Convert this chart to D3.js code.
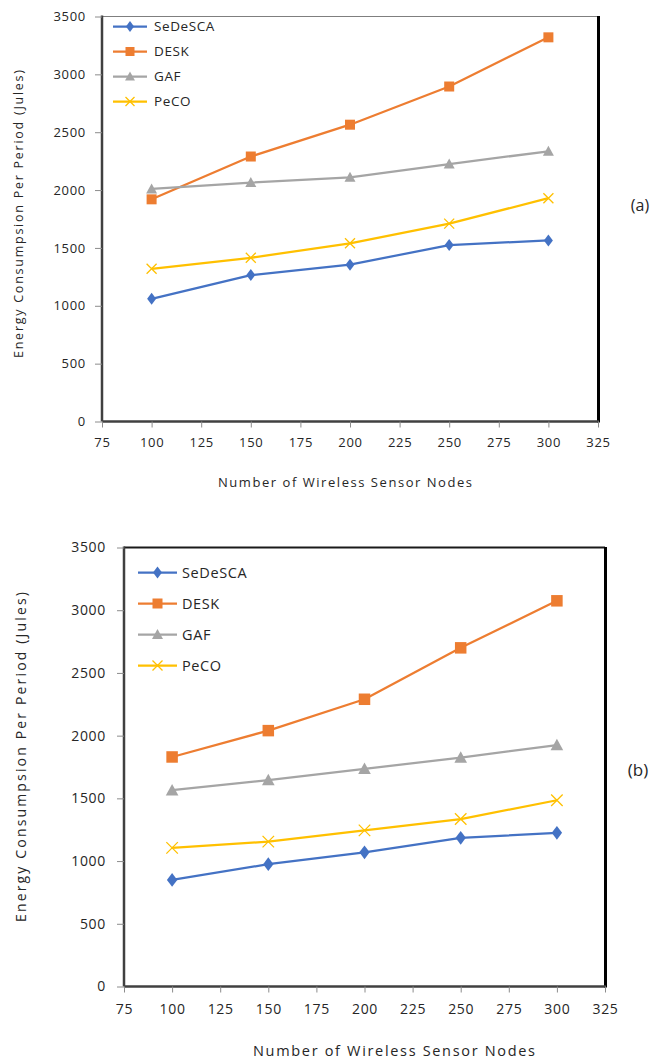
<!DOCTYPE html>
<html>
<head>
<meta charset="utf-8">
<script src="https://cdn.jsdelivr.net/npm/d3@7/dist/d3.min.js"></script>
<style>
  html, body { margin: 0; padding: 0; background: #fff; }
  svg { display: block; }
  text { font-family: "Open Sans", Lato, sans-serif; fill: #262626; }
</style>
</head>
<body>
<svg id="fig" width="665" height="1059"></svg>
<script>
// Number of wireless sensor nodes (x values) and axis ticks
const nodes = [100, 150, 200, 250, 300];
const xTicks = [75, 100, 125, 150, 175, 200, 225, 250, 275, 300, 325];
const yTicks = [0, 500, 1000, 1500, 2000, 2500, 3000, 3500];
const seriesNames = ["SeDeSCA", "DESK", "GAF", "PeCO"];

// Energy consumption per period, scenario (a)
const sedescaA = [1060, 1265, 1355, 1525, 1565];
const deskA    = [1920, 2290, 2565, 2895, 3320];
const gafA     = [2010, 2065, 2110, 2225, 2335];
const pecoA    = [1320, 1415, 1540, 1710, 1930];

// Energy consumption per period, scenario (b)
const sedescaB = [850, 975, 1070, 1185, 1225];
const deskB    = [1830, 2040, 2290, 2700, 3075];
const gafB     = [1565, 1645, 1735, 1825, 1925];
const pecoB    = [1105, 1155, 1245, 1335, 1485];

const colors  = ["#4472C4", "#ED7D31", "#A5A5A5", "#FFC000"];
const markers = ["diamond", "square", "triangle", "cross"];

const svg = d3.select("#fig");

function drawMarker(g, type, cx, cy, s, color) {
  if (type === "diamond") {
    g.append("path")
      .attr("d", `M${cx},${cy - s * 0.6}L${cx + s * 0.45},${cy}L${cx},${cy + s * 0.6}L${cx - s * 0.45},${cy}Z`)
      .attr("fill", color);
  } else if (type === "square") {
    g.append("rect")
      .attr("x", cx - s / 2).attr("y", cy - s / 2)
      .attr("width", s).attr("height", s)
      .attr("fill", color);
  } else if (type === "triangle") {
    g.append("path")
      .attr("d", `M${cx},${cy - s * 0.55}L${cx + s * 0.55},${cy + s * 0.45}L${cx - s * 0.55},${cy + s * 0.45}Z`)
      .attr("fill", color);
  } else {
    const h = s / 2;
    g.append("path")
      .attr("d", `M${cx - h},${cy - h}L${cx + h},${cy + h}M${cx - h},${cy + h}L${cx + h},${cy - h}`)
      .attr("stroke", color).attr("stroke-width", 1.3).attr("fill", "none");
  }
}

function drawChart(cfg) {
  const g = svg.append("g");
  const x = d3.scaleLinear().domain([75, 325]).range([cfg.left, cfg.right]);
  const y = d3.scaleLinear().domain([0, 3500]).range([cfg.bottom, cfg.top]);

  // plot frame: light top, heavy right
  g.append("line")
    .attr("x1", cfg.left).attr("x2", cfg.right)
    .attr("y1", cfg.top).attr("y2", cfg.top)
    .attr("stroke", cfg.topStroke).attr("stroke-width", cfg.topWidth);
  g.append("line")
    .attr("x1", cfg.right + 0.5).attr("x2", cfg.right + 0.5)
    .attr("y1", cfg.top - 0.5).attr("y2", cfg.bottom + 1)
    .attr("stroke", "#000").attr("stroke-width", 3);

  // axes
  const yAxis = g.append("g")
    .attr("transform", `translate(${cfg.left},0)`)
    .call(d3.axisLeft(y).tickValues(yTicks).tickSize(7).tickPadding(cfg.yPad).tickFormat(d3.format("d")));
  const xAxis = g.append("g")
    .attr("transform", `translate(0,${cfg.bottom})`)
    .call(d3.axisBottom(x).tickValues(xTicks).tickSize(6).tickPadding(cfg.xPad).tickFormat(d3.format("d")));
  [yAxis, xAxis].forEach(a => {
    a.select(".domain").attr("stroke", "#404040").attr("stroke-width", 2.5);
    a.selectAll(".tick line").attr("stroke", "#8c8c8c").attr("stroke-width", 1);
    a.selectAll(".tick text")
      .style("font-family", "'Open Sans', Lato, sans-serif")
      .style("font-size", cfg.tickFont + "px")
      .style("letter-spacing", "0.7px")
      .attr("fill", "#262626");
  });
  yAxis.select(".domain").attr("d", `M0,${cfg.top - 1}V${cfg.bottom}`);
  xAxis.select(".domain").attr("d", `M${cfg.left},0H${cfg.right + 1}`);

  // series lines and markers
  const line = d3.line().x((d, i) => x(nodes[i])).y(d => y(d));
  cfg.series.forEach((vals, k) => {
    g.append("path")
      .datum(vals)
      .attr("d", line)
      .attr("fill", "none")
      .attr("stroke", colors[k])
      .attr("stroke-width", 2.25)
      .attr("stroke-linejoin", "round");
    const mg = g.append("g");
    vals.forEach((v, i) => drawMarker(mg, markers[k], x(nodes[i]), y(v), cfg.markerSize, colors[k]));
  });

  // legend
  const lg = g.append("g");
  seriesNames.forEach((name, k) => {
    const ly = cfg.legendY + k * cfg.legendStep;
    lg.append("line")
      .attr("x1", cfg.legendX0).attr("x2", cfg.legendX1)
      .attr("y1", ly).attr("y2", ly)
      .attr("stroke", colors[k]).attr("stroke-width", 2.25);
    drawMarker(lg, markers[k], (cfg.legendX0 + cfg.legendX1) / 2, ly, cfg.legendMarker, colors[k]);
    lg.append("text")
      .attr("x", cfg.legendText).attr("y", ly)
      .attr("dy", "0.35em")
      .style("font-size", cfg.legendFont + "px")
      .style("letter-spacing", "0.6px")
      .text(name);
  });

  // axis titles
  g.append("text")
    .attr("x", cfg.xTitleX).attr("y", cfg.xTitleY)
    .attr("text-anchor", "middle")
    .attr("textLength", cfg.xTitleLen).attr("lengthAdjust", "spacing")
    .style("font-size", cfg.titleFont + "px")
    .text("Number of Wireless Sensor Nodes");
  g.append("text")
    .attr("transform", `translate(${cfg.yTitleX},${cfg.yTitleY}) rotate(-90)`)
    .attr("text-anchor", "middle")
    .attr("textLength", cfg.yTitleLen).attr("lengthAdjust", "spacing")
    .style("font-size", cfg.yTitleFont + "px")
    .text("Energy Consumpsion Per Period (Jules)");

  // panel label
  g.append("text")
    .attr("x", cfg.labelX).attr("y", cfg.labelY)
    .attr("text-anchor", "middle").attr("dy", "0.35em")
    .style("font-size", cfg.labelFont + "px")
    .text(cfg.label);
}

drawChart({
  series: [sedescaA, deskA, gafA, pecoA],
  left: 102, right: 598, top: 16.5, bottom: 421.5,
  topStroke: "#7f7f7f", topWidth: 1.2,
  yPad: 9, xPad: 10, tickFont: 13,
  markerSize: 10, legendMarker: 9,
  legendX0: 113, legendX1: 147, legendText: 154, legendY: 26.5, legendStep: 25, legendFont: 13.5,
  xTitleX: 345, xTitleY: 486.5, xTitleLen: 254, titleFont: 13,
  yTitleX: 23, yTitleY: 214, yTitleLen: 288, yTitleFont: 12.5,
  label: "(a)", labelX: 640, labelY: 205, labelFont: 16
});

drawChart({
  series: [sedescaB, deskB, gafB, pecoB],
  left: 124, right: 605, top: 547.5, bottom: 986.5,
  topStroke: "#1a1a1a", topWidth: 2.2,
  yPad: 11, xPad: 12, tickFont: 14,
  markerSize: 11.5, legendMarker: 10,
  legendX0: 138, legendX1: 177, legendText: 182, legendY: 572.5, legendStep: 31, legendFont: 14.5,
  xTitleX: 394, xTitleY: 1056, xTitleLen: 282, titleFont: 14.5,
  yTitleX: 26, yTitleY: 757, yTitleLen: 330, yTitleFont: 14,
  label: "(b)", labelX: 638, labelY: 770, labelFont: 17
});
</script>
</body>
</html>
